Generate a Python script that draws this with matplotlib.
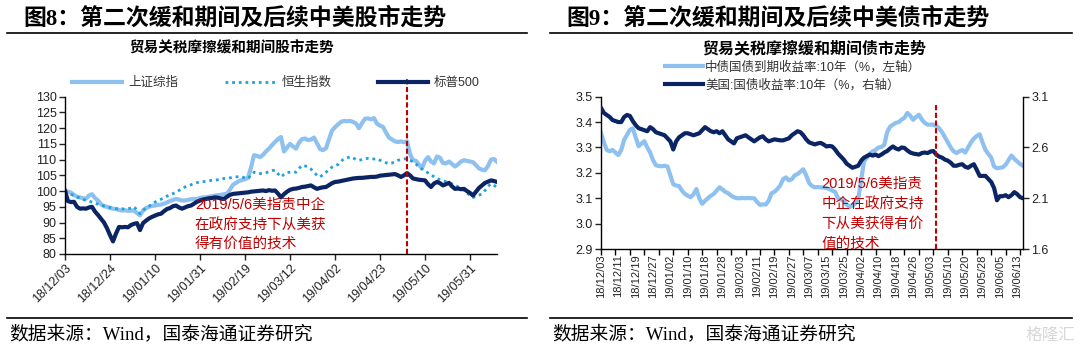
import matplotlib
matplotlib.use('Agg')
import matplotlib.pyplot as plt
from matplotlib.lines import Line2D

plt.rcParams['font.family'] = ['Liberation Sans', 'Noto Sans CJK SC']

# 图8 股市走势 (2018/12/03 = 100)
sh_index = [
    100.2, 99.8, 99.5, 98.8, 98.2, 98.0, 97.7, 97.6, 98.6, 99.0,
    97.8, 97.0, 95.8, 95.2, 95.0, 94.6, 94.4, 94.3, 94.0, 93.8,
    93.9, 93.7, 93.8, 93.8, 93.0, 92.3, 93.8, 94.6, 95.0, 95.3,
    95.4, 95.6, 95.7, 96.0, 96.4, 96.8, 97.2, 97.5, 97.3, 97.0,
    97.0, 97.2, 97.4, 97.5, 97.4, 97.8, 98.0, 98.0, 98.2, 98.4,
    98.6, 98.7, 98.8, 99.0, 99.2, 100.5, 102.0, 102.6, 103.2, 103.5,
    103.8, 104.2, 107.5, 111.4, 111.2, 110.8, 111.5, 112.6, 113.5, 114.6,
    115.6, 116.5, 117.2, 112.6, 113.8, 115.0, 114.2, 113.5, 115.4, 116.5,
    116.7, 116.2, 116.4, 117.0, 115.2, 113.4, 113.0, 113.6, 116.5, 119.2,
    120.3, 121.2, 122.0, 122.3, 122.2, 122.3, 122.0, 121.5, 120.0, 121.6,
    123.0, 123.1, 122.8, 123.2, 121.4, 120.8, 120.4, 118.6, 117.0, 116.4,
    115.8, 115.6, 115.8, 115.5, 115.8, 111.8, 109.8, 109.6, 108.4, 107.3,
    109.6, 110.8, 109.4, 108.8, 111.0, 110.6, 108.9, 108.8, 109.4, 108.6,
    107.8, 108.5, 109.4, 109.8, 109.6, 109.4, 109.2, 108.2, 107.2, 106.8,
    106.6, 108.0, 110.0, 110.2, 109.3,
]
hsi_index = [
    100.0, 99.6, 99.0, 98.5, 98.1, 97.8, 97.4, 97.0, 96.8, 96.5,
    96.2, 95.8, 95.5, 95.3, 95.0, 94.8, 94.6, 94.4, 94.3, 94.4,
    94.2, 94.4, 94.6, 95.0, 94.0, 92.8, 93.8, 94.8, 95.2, 95.8,
    96.5, 97.0, 97.4, 97.9, 98.4, 98.9, 99.2, 99.6, 100.2, 100.8,
    101.3, 101.6, 102.0, 102.4, 102.7, 102.9, 103.0, 103.1, 103.3, 103.4,
    103.5, 103.6, 103.8, 104.0, 104.0, 104.2, 104.4, 104.5, 104.6, 104.5,
    104.2, 104.0, 105.0, 106.0, 105.8, 105.6, 105.5, 105.8, 106.2, 106.5,
    106.6, 105.5, 104.5, 105.3, 105.9, 106.0, 106.1, 106.0, 107.2, 108.2,
    108.0, 107.7, 107.0, 106.0, 105.0, 104.5, 105.2, 106.0, 106.8, 107.6,
    108.2, 108.4, 109.4, 110.3, 110.5, 110.9, 110.6, 110.0, 109.8, 110.0,
    110.3, 110.4, 110.3, 110.2, 110.3, 109.8, 109.3, 109.0, 108.7, 108.9,
    109.4, 109.8, 110.0, 110.2, 110.3, 109.8, 109.3, 108.6, 107.6, 107.0,
    106.4, 105.8, 105.0, 104.6, 104.0, 103.6, 103.2, 103.0, 102.6, 102.3,
    101.8, 101.4, 100.8, 100.2, 99.4, 98.6, 98.0, 98.3, 98.7, 99.1,
    100.2, 101.5, 102.3, 101.8, 101.3,
]
spx_index = [
    100.0, 96.8, 96.5, 96.6, 95.0, 94.4, 94.5, 94.4, 94.8, 95.0,
    93.5, 92.4, 91.2, 90.0, 88.2, 86.0, 84.0, 86.5, 88.6, 88.5,
    88.6, 88.5, 89.2, 89.6, 89.8, 87.6, 89.8, 90.6, 91.3, 91.8,
    92.2, 92.6, 92.8, 93.6, 94.3, 94.6, 95.2, 95.4, 94.8, 94.4,
    94.8, 95.2, 95.4, 96.0, 96.6, 97.0, 97.3, 97.5, 97.7, 97.8,
    98.0, 97.9, 97.6, 97.5, 98.2, 98.8, 99.1, 99.2, 99.3, 99.4,
    99.5, 99.6, 99.8, 99.9, 100.0, 100.1, 100.2, 100.0, 100.3, 100.1,
    100.2, 99.2, 98.0, 99.0, 99.8, 100.4, 100.7, 100.8, 101.0, 101.3,
    101.4, 101.6, 101.8, 101.2, 100.7, 101.0, 101.2, 101.3, 101.9, 102.5,
    102.9, 103.0, 103.2, 103.4, 103.6, 103.8, 104.0, 104.1, 104.2, 104.2,
    104.3, 104.4, 104.5, 104.5, 104.6, 104.9, 105.0, 105.1, 105.2, 105.3,
    105.4, 105.0, 104.5, 105.0, 105.7, 105.0, 104.0, 103.8, 103.6, 103.5,
    103.4, 102.2, 101.3, 102.4, 102.9, 102.5, 101.8, 102.2, 102.6, 101.5,
    100.7, 100.8, 100.6, 100.7, 100.0, 99.4, 98.6, 99.8, 101.0, 101.8,
    102.6, 103.0, 103.4, 103.2, 102.9,
]
stock_ticks = ['18/12/03', '18/12/24', '19/01/10', '19/01/31', '19/02/19',
               '19/03/12', '19/04/02', '19/04/23', '19/05/10', '19/05/31']
stock_event = 114  # 2019/5/6

# 图9 债市走势 (%)
cn_10y = [
    3.357, 3.32, 3.29, 3.285, 3.29, 3.28, 3.27, 3.29, 3.33, 3.35,
    3.37, 3.375, 3.34, 3.305, 3.315, 3.325, 3.30, 3.28, 3.25, 3.23,
    3.227, 3.226, 3.228, 3.225, 3.19, 3.155, 3.15, 3.148, 3.13, 3.117,
    3.11, 3.104, 3.115, 3.136, 3.10, 3.078, 3.09, 3.10, 3.11, 3.117,
    3.13, 3.143, 3.135, 3.125, 3.12, 3.11, 3.104, 3.10, 3.10, 3.101,
    3.10, 3.101, 3.10, 3.10, 3.085, 3.074, 3.076, 3.075, 3.09, 3.12,
    3.125, 3.136, 3.15, 3.175, 3.182, 3.17, 3.175, 3.19, 3.195, 3.205,
    3.214, 3.19, 3.16, 3.148, 3.143, 3.144, 3.143, 3.142, 3.14, 3.136,
    3.13, 3.125, 3.10, 3.095, 3.09, 3.075, 3.066, 3.07, 3.08, 3.097,
    3.17, 3.245, 3.26, 3.275, 3.285, 3.29, 3.30, 3.302, 3.31, 3.36,
    3.382, 3.39, 3.397, 3.40, 3.41, 3.417, 3.436, 3.425, 3.409, 3.42,
    3.429, 3.41, 3.397, 3.39, 3.39, 3.39, 3.385, 3.375, 3.36, 3.34,
    3.32, 3.30, 3.285, 3.278, 3.285, 3.29, 3.28, 3.30, 3.32, 3.335,
    3.345, 3.352, 3.32, 3.29, 3.275, 3.26, 3.225, 3.218, 3.22, 3.222,
    3.232, 3.25, 3.268, 3.255, 3.245, 3.235, 3.228,
]
us_10y = [
    2.99, 2.94, 2.92, 2.90, 2.87, 2.86, 2.85, 2.85, 2.90, 2.92,
    2.91, 2.86, 2.82, 2.79, 2.78, 2.77, 2.76, 2.80, 2.78, 2.75,
    2.74, 2.73, 2.72, 2.69, 2.66, 2.58, 2.66, 2.70, 2.72, 2.74,
    2.74, 2.73, 2.72, 2.73, 2.74, 2.77, 2.80, 2.78, 2.76, 2.75,
    2.76, 2.74, 2.76, 2.72, 2.68, 2.66, 2.64, 2.69, 2.70, 2.71,
    2.72, 2.70, 2.68, 2.66, 2.68, 2.70, 2.71, 2.68, 2.66, 2.67,
    2.68, 2.675, 2.67, 2.67, 2.68, 2.69, 2.72, 2.74, 2.76, 2.75,
    2.72, 2.68, 2.65, 2.64, 2.63, 2.64, 2.645, 2.63, 2.61, 2.615,
    2.61, 2.58, 2.54, 2.51, 2.48, 2.44, 2.42, 2.40, 2.41, 2.42,
    2.47, 2.50, 2.515, 2.53, 2.52, 2.53, 2.515, 2.53, 2.55, 2.565,
    2.59, 2.61, 2.59, 2.58, 2.60, 2.595, 2.57, 2.55, 2.54, 2.535,
    2.53, 2.545, 2.55, 2.545, 2.56, 2.565, 2.53, 2.51, 2.50, 2.48,
    2.47, 2.45, 2.42, 2.42, 2.43, 2.435, 2.41, 2.40, 2.42, 2.435,
    2.38, 2.32, 2.32, 2.32, 2.29, 2.26, 2.20, 2.08, 2.12, 2.12,
    2.13, 2.11, 2.13, 2.16, 2.14, 2.11, 2.10,
]
bond_ticks = ['18/12/03', '18/12/11', '18/12/19', '18/12/27', '19/01/02',
              '19/01/10', '19/01/18', '19/01/28', '19/02/03', '19/02/11',
              '19/02/19', '19/02/27', '19/03/07', '19/03/15', '19/03/25',
              '19/04/02', '19/04/10', '19/04/18', '19/04/26', '19/05/03',
              '19/05/10', '19/05/20', '19/05/28', '19/06/05', '19/06/13']
bond_event = 116  # 2019/5/6

LIGHT = '#8EC0F0'
NAVY = '#0A2464'
CYAN = '#1FA2DC'
RED = '#C00000'
SERIF = ['Liberation Serif', 'Noto Sans CJK SC']

W, H = 1080, 352
def fx(x):
    return x / W
def fy(y):
    return 1 - y / H

fig = plt.figure(figsize=(W / 100, H / 100), dpi=100)

# 标题、分隔线、来源
for x0, x1, title in [(7, 527, '图8：第二次缓和期间及后续中美股市走势'),
                      (550, 1072, '图9：第二次缓和期间及后续中美债市走势')]:
    fig.text(fx(x0 + 16), fy(18), title, fontsize=16.5, fontweight='bold',
             family=SERIF, ha='left', va='center')
    fig.add_artist(Line2D([fx(x0), fx(x1)], [fy(33), fy(33)], color='black', lw=1.2))
    fig.add_artist(Line2D([fx(x0), fx(x1)], [fy(318), fy(318)], color='black', lw=1.2))
    fig.text(fx(x0 + 2), fy(334), '数据来源：Wind，国泰海通证券研究', fontsize=13.5,
             family=SERIF, ha='left', va='center')
fig.text(fx(1075), fy(335), '格隆汇', fontsize=12, color='#d8d8d8', ha='right', va='center')

fig.text(fx(232), fy(48), '贸易关税摩擦缓和期间股市走势', fontsize=10.5,
         fontweight='bold', ha='center', va='center')
fig.text(fx(814), fy(48), '贸易关税摩擦缓和期间债市走势', fontsize=11.5,
         fontweight='bold', ha='center', va='center')


def style_axis(ax):
    ax.tick_params(direction='out', length=4, width=1, labelsize=9, pad=2,
                   colors='#222222')
    for s in ax.spines.values():
        s.set_color('black')
        s.set_linewidth(1)
    ax.spines['top'].set_visible(False)


# ---- 图8 ----
ax1 = fig.add_axes([fx(65), fy(254), fx(497) - fx(65), (254 - 96.7) / H])
x = range(len(sh_index))
l1, = ax1.plot(x, sh_index, color=LIGHT, lw=3, label='上证综指')
l2, = ax1.plot(x, hsi_index, color=CYAN, lw=2, ls=(0, (1, 1.4)), label='恒生指数')
l3, = ax1.plot(x, spx_index, color=NAVY, lw=3, label='标普500')
ax1.axvline(stock_event, ymin=0, ymax=1.11, color=RED, lw=1.5,
            ls=(0, (2.5, 1.2)), clip_on=False, zorder=5)
ax1.set_xlim(0, len(sh_index) - 1)
ax1.set_ylim(80, 130)
ax1.set_yticks(range(80, 131, 5))
ax1.set_xticks(range(0, len(sh_index), 15))
ax1.set_xticklabels(stock_ticks, rotation=45, ha='right', va='top',
                    rotation_mode='anchor')
ax1.spines['right'].set_visible(False)
style_axis(ax1)
ax1.text(43.3, 97.8, '2019/5/6美指责中企\n在政府支持下从美获\n得有价值的技术',
         color=RED, fontsize=10.5, ha='left', va='top', linespacing=1.5)
ax1.legend(handles=[l1, l2, l3], loc='center', ncol=3, mode='expand',
           bbox_to_anchor=(fx(72), fy(90), fx(480) - fx(72), 14 / H),
           bbox_transform=fig.transFigure, frameon=False, fontsize=9,
           handlelength=4, handletextpad=0.5, borderpad=0, borderaxespad=0,
           labelcolor='#333333')

# ---- 图9 ----
ax2 = fig.add_axes([fx(601), fy(249), fx(1023) - fx(601), (249 - 96.7) / H])
ax2r = ax2.twinx()
xb = range(len(cn_10y))
c1, = ax2.plot(xb, cn_10y, color=LIGHT, lw=3, label='中债国债到期收益率:10年（%，左轴）')
c2, = ax2r.plot(xb, us_10y, color=NAVY, lw=3, label='美国:国债收益率:10年（%，右轴）')
ax2r.axvline(bond_event, ymin=0, ymax=0.955, color=RED, lw=1.5,
             ls=(0, (2.5, 1.2)), zorder=5)
ax2.set_xlim(0, len(cn_10y) - 1)
ax2.set_ylim(2.9, 3.5)
ax2.set_yticks([2.9, 3.0, 3.1, 3.2, 3.3, 3.4, 3.5])
ax2.set_yticklabels([f'{v:.1f}' for v in ax2.get_yticks()])
ax2r.set_ylim(1.6, 3.1)
ax2r.set_yticks([1.6, 2.1, 2.6, 3.1])
ax2r.set_yticklabels([f'{v:.1f}' for v in ax2r.get_yticks()])
style_axis(ax2)
style_axis(ax2r)
ax2.spines['right'].set_visible(False)
ax2r.spines['left'].set_visible(False)
ax2r.spines['bottom'].set_visible(False)
ax2.xaxis.remove_overlapping_locs = False
ax2.set_xticks(range(0, len(cn_10y), 6))
ax2.set_xticklabels(bond_ticks, rotation=90, fontsize=8)
ax2.set_xticks(range(0, len(cn_10y), 5), minor=True)
ax2.tick_params(axis='x', which='major', length=0, pad=4)
ax2.tick_params(axis='x', which='minor', direction='out', length=4, width=1)
ax2.text(76.2, 3.185, '2019/5/6美指责\n中企在政府支持\n下从美获得有价\n值的技术',
         color=RED, fontsize=10.5, ha='left', va='top', linespacing=1.55)
ax2r.legend(handles=[c1, c2], loc='upper left', bbox_to_anchor=(fx(665), fy(61)),
            bbox_transform=fig.transFigure, frameon=False, fontsize=9,
            handlelength=3, handletextpad=0.2, labelspacing=0.45,
            borderpad=0, borderaxespad=0, labelcolor='#333333')

fig.savefig('out.png', dpi=100)
